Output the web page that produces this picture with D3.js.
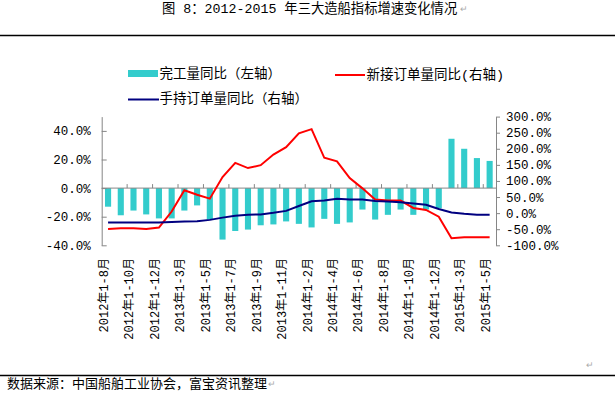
<!DOCTYPE html>
<html lang="zh">
<head>
<meta charset="utf-8">
<title>2012-2015年三大造船指标增速变化情况</title>
<script src="https://cdn.jsdelivr.net/npm/d3@7"></script>
<style>
  body { margin: 0; background: #fff; }
  svg { display: block; }
</style>
</head>
<body>
<svg id="chart"></svg>
<script>
// categories: cumulative months
var categories = [
  '2012年1-8月', '2012年1-9月', '2012年1-10月', '2012年1-11月', '2012年1-12月',
  '2013年1-2月', '2013年1-3月', '2013年1-4月', '2013年1-5月', '2013年1-6月', '2013年1-7月',
  '2013年1-8月', '2013年1-9月', '2013年1-10月', '2013年1-11月', '2013年1-12月',
  '2014年1-2月', '2014年1-3月', '2014年1-4月', '2014年1-5月', '2014年1-6月', '2014年1-7月',
  '2014年1-8月', '2014年1-9月', '2014年1-10月', '2014年1-11月', '2014年1-12月',
  '2015年1-2月', '2015年1-3月', '2015年1-4月', '2015年1-5月'
];

// 完工量同比 (left axis, %)
var completed = [-13, -19, -15.7, -18.4, -21.2, -21.2, -15.7, -12.1, -22, -36, -30,
  -29, -26, -25.4, -23.3, -25, -27.5, -21.5, -25, -24, -15, -22,
  -18.7, -15, -18.7, -15, -14, 34.5, 27.5, 21, 19];

// 新接订单量同比 (right axis, %)
var newOrders = [-49, -47, -47, -49, -45, 5, 71, 57, 45, 112, 156,
  140, 149, 182, 205, 248, 261, 172, 161, 109, 77, 42,
  39, 39, 16, 10, -11, -78, -75, -75, -75];

// 手持订单量同比 (right axis, %)
var holdOrders = [-29, -29, -29, -29, -29, -27.5, -26, -25, -21, -14, -8.5,
  -5, -4, 1, 7, 22, 37, 39, 45, 42, 42, 38,
  36, 34, 30, 26, 13, 2, -2, -5, -5];

var leftTicks = [-40, -20, 0, 20, 40];
var rightTicks = [-100, -50, 0, 50, 100, 150, 200, 250, 300];

var W = 615, H = 394;
var FONT = '"Liberation Mono", "Noto Sans CJK SC", sans-serif';
var AXIS_COLOR = '#868686';

var svg = d3.select('#chart').attr('width', W).attr('height', H)
  .style('font-family', FONT);

// title + rules
svg.append('text')
  .attr('x', 162).attr('y', 9)
  .attr('dominant-baseline', 'central')
  .style('font-size', '13.3px')
  .text('图 8：2012-2015 年三大造船指标增速变化情况');
svg.append('text')
  .attr('x', 460).attr('y', 10)
  .attr('dominant-baseline', 'central')
  .style('font-size', '9px').style('fill', '#aaa')
  .text('↵');

svg.append('line').attr('x1', 0).attr('x2', W).attr('y1', 35.5).attr('y2', 35.5)
  .attr('stroke', '#000').attr('stroke-width', 1.5);
svg.append('line').attr('x1', 0).attr('x2', W).attr('y1', 375.5).attr('y2', 375.5)
  .attr('stroke', '#000').attr('stroke-width', 1.5);

svg.append('text')
  .attr('x', 7).attr('y', 384.5)
  .attr('dominant-baseline', 'central')
  .style('font-size', '13px')
  .text('数据来源：中国船舶工业协会，富宝资讯整理');
svg.append('text')
  .attr('x', 268).attr('y', 385)
  .attr('dominant-baseline', 'central')
  .style('font-size', '9px').style('fill', '#aaa')
  .text('↵');
svg.append('text')
  .attr('x', 586).attr('y', 366)
  .attr('dominant-baseline', 'central')
  .style('font-size', '9px').style('fill', '#aaa')
  .text('↵');

// scales
var x = d3.scaleBand().domain(categories).range([101.7, 496])
  .paddingInner(0.52).paddingOuter(0.26);
var yL = d3.scaleLinear().domain([-40, 50]).range([245.3, 116.6]);
var yR = d3.scaleLinear().domain([-100, 300]).range([245.3, 116.6]);
var cx = function (c) { return x(c) + x.bandwidth() / 2; };

// bars
svg.append('g').selectAll('rect')
  .data(completed)
  .join('rect')
  .attr('x', function (d, i) { return x(categories[i]); })
  .attr('width', x.bandwidth())
  .attr('y', function (d) { return Math.min(yL(0), yL(d)); })
  .attr('height', function (d) { return Math.abs(yL(d) - yL(0)); })
  .attr('fill', '#33CCCC');

// left axis (ticks point inward)
var pct = function (v) { return v.toFixed(1) + '%'; };
var gL = svg.append('g').attr('transform', 'translate(101.7,0)')
  .call(d3.axisLeft(yL).tickValues(leftTicks).tickFormat(pct)
    .tickSizeInner(-5).tickSizeOuter(0).tickPadding(11));
var gR = svg.append('g').attr('transform', 'translate(496,0)')
  .call(d3.axisRight(yR).tickValues(rightTicks).tickFormat(pct)
    .tickSizeInner(4).tickSizeOuter(0).tickPadding(6));
[gL, gR].forEach(function (g) {
  g.selectAll('path, line').attr('stroke', AXIS_COLOR);
  g.selectAll('text').style('font-family', FONT).style('font-size', '12.5px').attr('fill', '#000');
});

// category axis on the zero line
var y0 = yL(0);
svg.append('line').attr('x1', 101.7).attr('x2', 496).attr('y1', y0).attr('y2', y0)
  .attr('stroke', AXIS_COLOR);
var half = x.step() * x.paddingInner() / 2;
svg.append('g').selectAll('line')
  .data(categories.filter(function (d, i) { return i % 2 === 0 && i > 0; }))
  .join('line')
  .attr('x1', function (c) { return x(c) - half; })
  .attr('x2', function (c) { return x(c) - half; })
  .attr('y1', y0).attr('y2', y0 - 4)
  .attr('stroke', AXIS_COLOR);

svg.append('g').selectAll('text')
  .data(categories.filter(function (d, i) { return i % 2 === 0; }))
  .join('text')
  .attr('transform', function (c) { return 'translate(' + (cx(c) - 3) + ',258) rotate(-90)'; })
  .attr('text-anchor', 'end')
  .attr('dominant-baseline', 'central')
  .style('font-size', '12px')
  .text(function (c) { return c; });

// lines
var line = d3.line()
  .x(function (d, i) { return cx(categories[i]); })
  .y(function (d) { return yR(d); });
svg.append('path').datum(newOrders).attr('d', line)
  .attr('fill', 'none').attr('stroke', '#FF0000').attr('stroke-width', 2);
svg.append('path').datum(holdOrders).attr('d', line)
  .attr('fill', 'none').attr('stroke', '#000080').attr('stroke-width', 2);

// legend
var lg = svg.append('g').style('font-size', '13.5px');
lg.append('rect').attr('x', 128).attr('y', 70).attr('width', 30).attr('height', 7).attr('fill', '#33CCCC');
lg.append('text').attr('x', 159.5).attr('y', 74).attr('dominant-baseline', 'central').text('完工量同比（左轴）');
lg.append('line').attr('x1', 335).attr('x2', 365).attr('y1', 75).attr('y2', 75)
  .attr('stroke', '#FF0000').attr('stroke-width', 2);
lg.append('text').attr('x', 366.5).attr('y', 75).attr('dominant-baseline', 'central').text('新接订单量同比(右轴)');
lg.append('line').attr('x1', 128).attr('x2', 159).attr('y1', 99.5).attr('y2', 99.5)
  .attr('stroke', '#000080').attr('stroke-width', 2);
lg.append('text').attr('x', 159.5).attr('y', 99.5).attr('dominant-baseline', 'central').text('手持订单量同比（右轴）');
</script>
</body>
</html>
